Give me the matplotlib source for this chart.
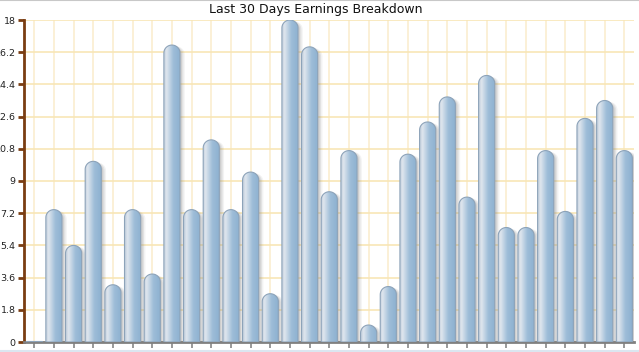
import numpy as np
import matplotlib.pyplot as plt
from matplotlib.path import Path
from matplotlib.patches import PathPatch
from matplotlib.colors import LinearSegmentedColormap

title = "Last 30 Days Earnings Breakdown"
earnings = [0, 7.4, 5.4, 10.1, 3.2, 7.4, 3.8, 16.6, 7.4, 11.3, 7.4, 9.5, 2.7,
            18.0, 16.5, 8.4, 10.7, 0.95, 3.1, 10.5, 12.3, 13.7, 8.1, 14.9,
            6.4, 6.4, 10.7, 7.3, 12.5, 13.5, 10.7]
y_ticks = [0, 1.8, 3.6, 5.4, 7.2, 9, 10.8, 12.6, 14.4, 16.2, 18]
y_labels = ["0", "1.8", "3.6", "5.4", "7.2", "9", "10.8", "12.6", "14.4", "16.2", "18"]

fig = plt.figure(figsize=(6.39, 3.52), dpi=100)
ax = fig.add_axes([24 / 639, 10 / 352, 609.6 / 639, 322 / 352])

# bar geometry (data units)
hw = 0.41          # half width of a bar
rv = 8 / 17.89     # height of the rounded top

grad = LinearSegmentedColormap.from_list(
    "bar", [(0, "#c3d0dd"), (0.15, "#dfe6ee"), (0.55, "#9ebdd8"), (1, "#8cb0d0")])
g = np.linspace(0, 1, 64).reshape(1, -1)


def capsule(x, v):
    if v <= rv:
        verts = [(x - hw, 0), (x + hw, 0), (x + hw, v), (x - hw, v), (x - hw, 0)]
    else:
        t = np.linspace(0, np.pi, 24)
        arc = [(x + hw * np.cos(a), v - rv + rv * np.sin(a)) for a in t]
        verts = [(x - hw, 0), (x + hw, 0), (x + hw, v - rv)] + arc + [(x - hw, 0)]
    return Path(verts, closed=True)


for i, v in enumerate(earnings):
    h = max(v, 0.07)
    # soft shadow on the right
    for dx, a in [(0.24, 0.10), (0.17, 0.16), (0.10, 0.22)]:
        sp = capsule(i + dx, h - 0.08)
        ax.add_patch(PathPatch(sp, facecolor="#8a8a8a", edgecolor="none",
                               alpha=a, zorder=2))
    p = PathPatch(capsule(i, h), facecolor="none", edgecolor="#8da3b9",
                  linewidth=0.8, zorder=4)
    ax.add_patch(p)
    im = ax.imshow(g, cmap=grad, extent=[i - hw, i + hw, 0, h],
                   aspect="auto", zorder=3, interpolation="bilinear")
    im.set_clip_path(p)

ax.set_xlim(-0.52, 30.47)
ax.set_ylim(0, 18)
ax.set_xticks(range(len(earnings)))
ax.set_xticklabels([])
ax.set_yticks(y_ticks)
ax.set_yticklabels(y_labels, fontsize=6.8, color="#222222")

ax.grid(axis="y", color="#f8e6b6", linewidth=1.2, zorder=0)
ax.grid(axis="x", color="#fbeecf", linewidth=1.2, zorder=0)
ax.set_axisbelow(True)

for s in ["top", "right"]:
    ax.spines[s].set_visible(False)
ax.spines["left"].set_color("#7a3d12")
ax.spines["left"].set_linewidth(2)
ax.spines["bottom"].set_color("#808080")
ax.spines["bottom"].set_linewidth(2)
ax.tick_params(axis="y", colors="#7a3d12", length=4, width=2, pad=2,
               labelcolor="#222222")
ax.tick_params(axis="x", colors="#888888", length=4, width=1.2)

fig.text(316 / 639, 1 - 10 / 352, title, ha="center", va="center",
         fontsize=9.0, color="#111111")

# frame lines at top and bottom of the image
fig.add_artist(plt.Line2D([0, 1], [0.999, 0.999], color="#c8c8c8", linewidth=1.5))
fig.add_artist(plt.Line2D([0, 1], [1.5 / 352, 1.5 / 352], color="#dbe6f0", linewidth=1.5))

fig.savefig("out.png", dpi=100)
